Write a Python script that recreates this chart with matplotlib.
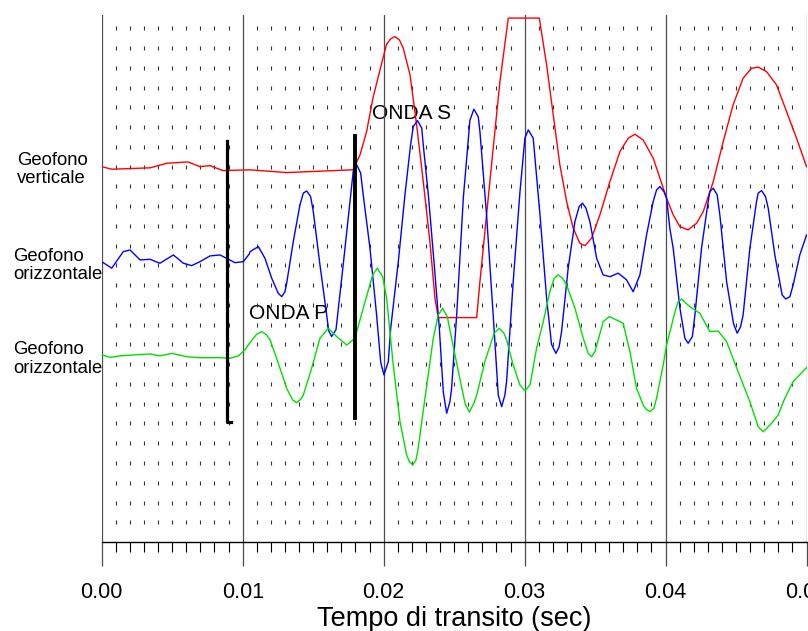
import numpy as np
import matplotlib
matplotlib.use("Agg")
import matplotlib.pyplot as plt
from matplotlib.ticker import MultipleLocator, FormatStrFormatter

plt.rcParams['font.family'] = ['Liberation Sans', 'DejaVu Sans']

# samples: (time in ms, amplitude in grid divisions)
red_pts = [
    (0, 19.00), (0.71, 18.87), (3.43, 18.94), (4.61, 19.17), (6.12, 19.24), (6.97, 19.00),
    (7.68, 19.05), (8.60, 18.80), (10.52, 18.84), (13.12, 18.70), (17.82, 18.84), (18.32, 19.59),
    (18.79, 20.77), (19.24, 22.47), (19.74, 23.90), (20.21, 25.20), (20.50, 25.47), (20.80, 25.58),
    (21.11, 25.42), (21.39, 25.00), (21.87, 23.65), (22.34, 21.11), (22.81, 18.24), (23.28, 15.21),
    (23.64, 12.34), (23.87, 11.36), (26.60, 11.36), (26.83, 13.18), (27.30, 16.56), (27.77, 19.93),
    (28.25, 23.31), (28.84, 26.52), (31.04, 26.52), (31.56, 24.15), (32.03, 21.62), (32.50, 19.09),
    (32.98, 17.23), (33.45, 15.88), (33.92, 15.12), (34.28, 15.00), (34.75, 15.38), (35.34, 16.56),
    (36.05, 18.24), (36.76, 19.76), (37.35, 20.44), (37.82, 20.64), (38.41, 20.35), (39.12, 19.43),
    (39.60, 18.42), (40.07, 17.40), (40.54, 16.56), (41.02, 15.96), (41.60, 15.80), (42.20, 16.14),
    (42.67, 16.72), (43.38, 18.24), (44.09, 20.27), (44.79, 22.13), (45.50, 23.48), (46.10, 23.98),
    (46.57, 24.04), (47.16, 23.81), (47.87, 23.14), (48.58, 21.79), (49.29, 20.44), (50.00, 19.00),
]

blue_pts = [
    (0, 14.19), (0.71, 13.86), (1.53, 14.70), (2.01, 14.78), (2.72, 14.28), (3.43, 14.31),
    (4.13, 14.11), (5.08, 14.53), (5.79, 14.11), (6.38, 13.99), (6.97, 14.19), (7.68, 14.48),
    (8.39, 14.53), (8.98, 14.31), (9.45, 14.14), (10.04, 14.19), (10.47, 14.58), (10.52, 14.70),
    (11.11, 14.95), (11.58, 14.36), (12.06, 13.35), (12.52, 12.59), (12.77, 12.42), (13.00, 12.67),
    (13.12, 13.10), (13.59, 15.21), (14.06, 17.06), (14.30, 17.66), (14.54, 17.77), (14.82, 17.48),
    (15.01, 16.72), (15.48, 14.03), (15.96, 11.49), (16.10, 10.70), (16.31, 10.40), (16.62, 10.75),
    (17.13, 14.03), (17.61, 17.23), (17.84, 18.75), (18.09, 19.09), (18.37, 18.67), (18.55, 17.57),
    (19.03, 14.87), (19.50, 11.49), (19.79, 9.10), (20.02, 8.46), (20.33, 9.13), (20.50, 10.82),
    (21.04, 14.19), (21.51, 17.57), (21.91, 20.10), (22.10, 21.03), (22.40, 21.33), (22.70, 20.95),
    (22.81, 20.10), (23.17, 17.57), (23.57, 14.19), (23.95, 10.82), (24.23, 7.60), (24.47, 6.52),
    (24.70, 7.10), (24.82, 7.78), (25.18, 11.49), (25.65, 17.40), (26.12, 21.35), (26.40, 21.91),
    (26.71, 21.53), (26.83, 20.77), (27.30, 16.56), (27.77, 11.49), (28.13, 7.44), (28.37, 6.85),
    (28.60, 7.44), (28.72, 8.12), (29.19, 13.18), (29.67, 17.72), (30.02, 20.44), (30.26, 20.86),
    (30.61, 20.44), (31.09, 16.56), (31.56, 12.34), (31.91, 10.00), (32.22, 9.55), (32.45, 9.89),
    (32.62, 10.65), (33.09, 13.86), (33.57, 16.22), (33.87, 16.98), (34.11, 17.15), (34.35, 16.90),
    (34.63, 16.22), (35.11, 14.36), (35.57, 13.52), (36.05, 13.43), (36.64, 13.61), (37.23, 13.27),
    (37.70, 12.67), (38.18, 13.52), (38.65, 15.54), (39.12, 17.23), (39.36, 17.82), (39.60, 17.99),
    (39.88, 17.74), (40.07, 17.40), (40.30, 15.88), (40.54, 14.87), (41.02, 11.83), (41.37, 10.31),
    (41.60, 10.06), (41.90, 10.40), (42.08, 11.49), (42.55, 14.87), (43.02, 17.23), (43.14, 17.74),
    (43.38, 17.91), (43.66, 17.57), (43.85, 16.56), (44.33, 13.18), (44.82, 11.05), (45.08, 10.57),
    (45.32, 10.90), (45.50, 11.49), (45.98, 14.87), (46.45, 17.23), (46.57, 17.66), (46.81, 17.79),
    (47.09, 17.48), (47.28, 16.90), (47.75, 14.53), (48.27, 12.50), (48.53, 12.30), (48.82, 12.42),
    (49.05, 13.01), (49.52, 14.53), (50.00, 15.54),
]

green_pts = [
    (0, 9.47), (0.59, 9.35), (1.30, 9.42), (2.24, 9.47), (3.43, 9.52), (4.13, 9.42),
    (4.96, 9.55), (6.03, 9.38), (6.97, 9.33), (8.39, 9.33), (9.10, 9.30), (9.69, 9.42),
    (10.16, 9.72), (10.52, 10.10), (10.99, 10.52), (11.35, 10.65), (11.70, 10.48), (11.94, 10.23),
    (12.41, 9.30), (13.12, 7.78), (13.55, 7.19), (13.83, 7.05), (14.13, 7.24), (14.30, 7.44),
    (14.89, 8.79), (15.48, 10.31), (16.07, 10.82), (16.67, 10.40), (17.38, 9.97), (17.96, 10.31),
    (18.55, 11.83), (19.22, 13.52), (19.55, 13.86), (19.93, 13.43), (20.21, 12.34), (20.68, 8.96),
    (21.16, 6.09), (21.63, 4.41), (21.82, 4.07), (22.06, 3.90), (22.29, 4.15), (22.45, 4.74),
    (22.93, 7.28), (23.52, 10.31), (23.87, 11.49), (24.18, 11.83), (24.51, 11.41), (25.06, 9.47),
    (25.77, 7.02), (26.07, 6.57), (26.40, 7.02), (26.60, 7.44), (27.18, 9.13), (27.84, 10.57),
    (28.20, 10.82), (28.53, 10.57), (28.72, 10.23), (29.19, 8.96), (29.67, 7.95), (30.02, 7.65),
    (30.38, 7.95), (30.85, 9.81), (31.32, 11.15), (31.79, 12.67), (32.10, 13.35), (32.38, 13.52),
    (32.70, 13.35), (32.98, 13.01), (33.57, 11.83), (34.16, 10.31), (34.51, 9.55), (34.75, 9.38),
    (34.99, 9.64), (35.22, 10.23), (35.57, 11.15), (36.00, 11.41), (36.52, 11.24), (36.99, 11.07),
    (37.47, 9.64), (37.94, 7.78), (38.41, 6.94), (38.60, 6.73), (38.89, 6.60), (39.17, 6.77),
    (39.36, 7.28), (39.83, 8.96), (40.07, 9.97), (40.67, 11.66), (40.89, 12.17), (41.13, 12.30),
    (41.44, 12.09), (41.72, 11.91), (42.43, 11.58), (43.14, 10.65), (43.73, 10.68), (44.33, 10.14),
    (45.15, 8.62), (45.98, 7.10), (46.57, 5.84), (46.92, 5.58), (47.52, 6.01), (47.99, 6.43),
    (48.46, 7.28), (49.05, 8.12), (50.00, 8.83),
]

# picked arrivals (ms, divisions)
p_pick_t = [8.89, 8.89, 9.17]
p_pick_y = [20.32, 6.09, 6.09]
s_pick_t = [17.96, 17.96]
s_pick_y = [20.57, 6.29]

trace_labels = [("Geofono", "verticale"), ("Geofono", "orizzontale"), ("Geofono", "orizzontale")]
trace_colors = ['#ff0000', '#0000ff', '#00e000']

fig = plt.figure(figsize=(8.08, 6.31), dpi=100)
ax = fig.add_axes([0.1259, 0.1410, 0.8723, 0.8360])
ax.set_xlim(0, 0.05)
ax.set_ylim(0, 26.7)

# dotted reference grid
xs = [k / 1000 for k in range(1, 50) if k % 10]
X, Y = np.meshgrid(xs, np.arange(1, 27))
ax.plot(X.ravel(), Y.ravel(), ls='none', marker='|', ms=3, mew=0.8,
        color='0.2', zorder=2)

for pts, col in zip([red_pts, blue_pts, green_pts], trace_colors):
    t, a = zip(*pts)
    ax.plot(np.array(t) / 1000, a, color=col, lw=1.0, zorder=3)

ax.plot(np.array(p_pick_t) / 1000, p_pick_y, color='black', lw=2.3, zorder=4)
ax.plot(np.array(s_pick_t) / 1000, s_pick_y, color='black', lw=2.8, zorder=4)

ax.text(0.01045, 11.29, "ONDA P", fontsize=15, zorder=1)
ax.text(0.01917, 21.42, "ONDA S", fontsize=15, zorder=1)

# axes styling
for side in ('left', 'right', 'top'):
    ax.spines[side].set_visible(False)
ax.spines['bottom'].set_linewidth(1.0)
ax.set_yticks([])
ax.xaxis.set_major_locator(MultipleLocator(0.01))
ax.xaxis.set_minor_locator(MultipleLocator(0.001))
ax.xaxis.set_major_formatter(FormatStrFormatter('%.2f'))
ax.grid(axis='x', which='major', color='0.3', lw=0.9, zorder=1)
ax.tick_params(axis='x', which='major', length=17, width=0.9, color='0.3',
               pad=12, labelsize=15.5)
ax.tick_params(axis='x', which='minor', length=7.5, width=0.8, color='black')
ax.set_xlabel("Tempo di transito (sec)", fontsize=19.5, labelpad=2)

# trace labels on the left
label_pos = [(17, 165, 183.3), (13, 260.7, 279.3), (13, 354, 372.7)]
for (l1, l2), (px, b1, b2) in zip(trace_labels, label_pos):
    fig.text(px / 808, 1 - b1 / 631, l1, fontsize=13.3, va='baseline')
    fig.text(px / 808, 1 - b2 / 631, l2, fontsize=13.3, va='baseline')

fig.savefig("out.png", dpi=100)
